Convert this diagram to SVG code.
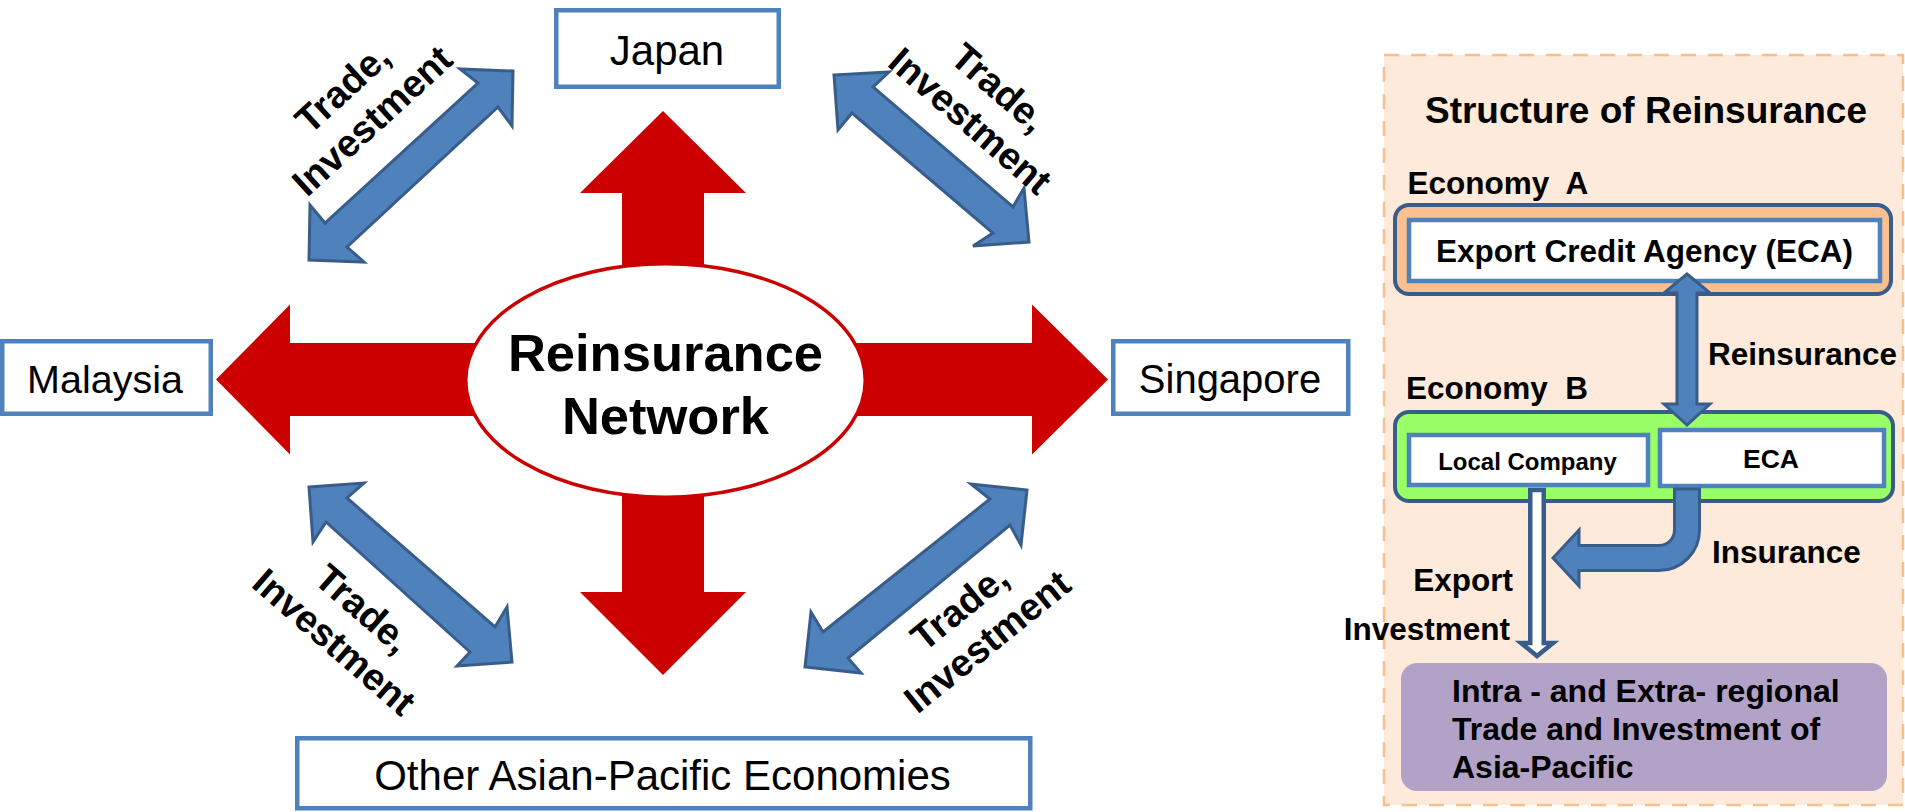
<svg xmlns="http://www.w3.org/2000/svg" width="1905" height="812" viewBox="0 0 1905 812">
<style>
.box{fill:#fff;stroke:#4F81BD;stroke-width:4.5}
.red{fill:#CC0000}
.blue{fill:#4F81BD;stroke:#385D8A;stroke-width:3;stroke-linejoin:miter}
.reg{font-family:"Liberation Sans",Arial,sans-serif;fill:#000}
.bold{font-family:"Liberation Sans",Arial,sans-serif;font-weight:bold;fill:#000}
.lbl{font-family:"Liberation Sans",Arial,sans-serif;font-weight:bold;font-size:38px;text-anchor:middle;fill:#000}
</style>
<rect width="1905" height="812" fill="#fff"/>
<g id="connectors">
  <polygon class="red" points="663,111 746,193 704,193 704,320 622,320 622,193 580,193"/>
  <polygon class="red" points="663,675 746,592 704,592 704,450 622,450 622,592 580,592"/>
  <polygon class="red" points="216,379.5 290,304.5 290,343 520,343 520,416 290,416 290,454.5"/>
  <polygon class="red" points="1108,379.5 1032,304.5 1032,343 820,343 820,416 1032,416 1032,454.5"/>
  <polygon class="blue" points="513,71 512,126 498,107 347,247 364,262 309,260 310,205 325,223 478,83 460,69"/>
  <polygon class="blue" points="834,75 889,72 873,87 1013,207 1024,188 1029,242 973,246 993,233 852,113 838,130"/>
  <polygon class="blue" points="309,487 364,483 347,498 495,627 507,607 512,662 457,666 470,652 326,522 313,542"/>
  <polygon class="blue" points="1027,490 1021,545 1010,525 848,658 861,673 805,667 811,612 823,632 990,499 971,484"/>
  <text class="lbl" transform="translate(357,104) rotate(-42.5)"><tspan x="0" y="-8.5">Trade,</tspan><tspan x="0" y="35.5">Investment</tspan></text>
  <text class="lbl" transform="translate(985,104) rotate(41)"><tspan x="0" y="-8.5">Trade,</tspan><tspan x="0" y="35.5">Investment</tspan></text>
  <text class="lbl" transform="translate(349,625) rotate(41)"><tspan x="0" y="-8.5">Trade,</tspan><tspan x="0" y="35.5">Investment</tspan></text>
  <text class="lbl" transform="translate(973,624) rotate(-39)"><tspan x="0" y="-8.5">Trade,</tspan><tspan x="0" y="35.5">Investment</tspan></text>
</g>
<g id="center">
  <ellipse cx="665.5" cy="380.5" rx="199.75" ry="116.75" fill="#fff" stroke="#CC0000" stroke-width="3.5"/>
  <text class="bold" font-size="52.5" text-anchor="middle"><tspan x="665.5" y="371">Reinsurance</tspan><tspan x="665.5" y="434">Network</tspan></text>
</g>
<g id="japan">
  <rect class="box" x="556.25" y="10.25" width="222.5" height="76.5"/>
  <text class="reg" x="667" y="65" font-size="42" text-anchor="middle">Japan</text>
</g>
<g id="malaysia">
  <rect class="box" x="2.25" y="341.25" width="208.5" height="72.5"/>
  <text class="reg" x="105" y="393" font-size="39.5" text-anchor="middle">Malaysia</text>
</g>
<g id="singapore">
  <rect class="box" x="1113.25" y="341.25" width="235" height="72.5"/>
  <text class="reg" x="1230" y="393" font-size="40" text-anchor="middle">Singapore</text>
</g>
<g id="other">
  <rect class="box" x="297.25" y="738.25" width="733" height="70"/>
  <text class="reg" x="662.5" y="790" font-size="42" text-anchor="middle">Other Asian-Pacific Economies</text>
</g>
<g id="panel">
  <rect x="1384" y="55" width="519" height="750" fill="#FDEADA" stroke="#F9BE8E" stroke-width="2.5" stroke-dasharray="15 12"/>
  <text class="bold" x="1646" y="123" font-size="37" text-anchor="middle">Structure of Reinsurance</text>
  <text class="bold" x="1407.5" y="194" font-size="31.5" xml:space="preserve">Economy  A</text>
  <text class="bold" x="1406" y="399" font-size="31.5" xml:space="preserve">Economy  B</text>
</g>
<g id="economyA">
  <rect x="1395" y="205" width="496" height="89" rx="14" fill="#FAC090" stroke="#385D8A" stroke-width="4"/>
  <rect class="box" x="1409" y="220" width="471" height="61"/>
  <text class="bold" x="1644.5" y="262" font-size="31.5" text-anchor="middle">Export Credit Agency (ECA)</text>
</g>
<g id="economyB">
  <rect x="1395" y="412" width="498" height="89" rx="14" fill="#99FF66" stroke="#385D8A" stroke-width="4"/>
  <rect class="box" x="1409" y="435" width="239" height="50"/>
  <text class="bold" x="1527.5" y="470" font-size="24" text-anchor="middle">Local Company</text>
  <rect class="box" x="1660" y="430" width="224" height="56"/>
  <text class="bold" x="1771" y="468" font-size="26.5" text-anchor="middle">ECA</text>
</g>
<g id="panel-connectors">
  <polygon class="blue" points="1687,274 1710,293 1697,293 1697,404 1710,404 1687,425 1664,404 1677,404 1677,293 1664,293"/>
  <text class="bold" x="1708" y="365" font-size="31.5">Reinsurance</text>
  <path class="blue" d="M1674.5,489 L1699.5,489 L1699.5,530 A40.5,40.5 0 0 1 1659,570.5 L1579,570.5 L1579,586 L1553,558 L1579,530 L1579,545.5 L1659,545.5 A15.5,15.5 0 0 0 1674.5,530 Z"/>
  <text class="bold" x="1712" y="563" font-size="31.5">Insurance</text>
  <polygon points="1530.25,490 1543.75,490 1543.75,643 1553,643 1537,656 1521,643 1530.25,643" fill="#fff" stroke="#385D8A" stroke-width="4.5"/>
  <text class="bold" x="1513" y="591" font-size="31.5" text-anchor="end">Export</text>
  <text class="bold" x="1510" y="640" font-size="31.5" text-anchor="end">Investment</text>
</g>
<g id="target">
  <rect x="1401" y="663" width="486" height="128" rx="16" fill="#B2A2C7"/>
  <text class="bold" font-size="32"><tspan x="1452" y="702">Intra - and Extra- regional</tspan><tspan x="1452" y="740">Trade and Investment of</tspan><tspan x="1452" y="778">Asia-Pacific</tspan></text>
</g>
</svg>
